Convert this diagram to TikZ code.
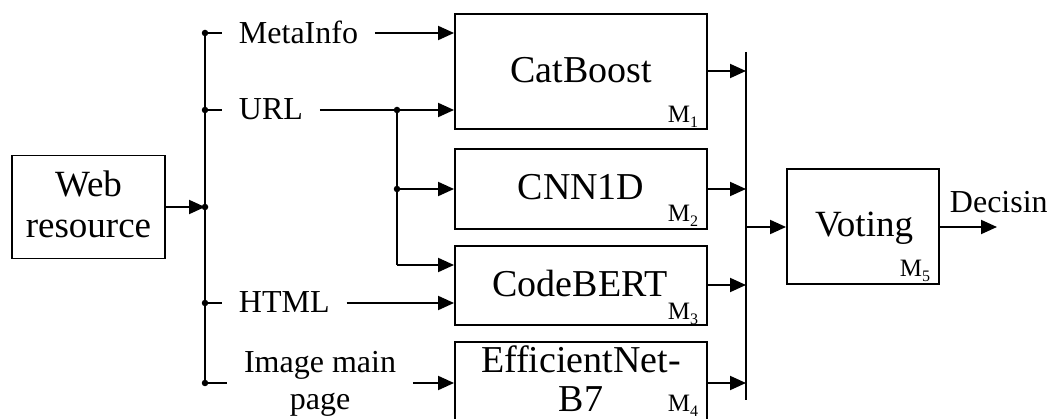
\documentclass[tikz,border=0pt]{standalone}
\usepackage{fontspec}
\setmainfont{Liberation Serif}
\usetikzlibrary{arrows.meta}
\newcommand{\mtag}[1]{M\raisebox{-4.5pt}{\fontsize{16}{16}\selectfont #1}}
\begin{document}
\begin{tikzpicture}[x=1pt,y=-1pt,line width=1.9pt,
  box/.style={draw,rectangle,inner sep=0pt,line width=1.9pt},
  big/.style={font=\fontsize{38}{40}\selectfont,inner sep=0pt,anchor=base},
  lab/.style={font=\fontsize{32}{34}\selectfont,inner ysep=0pt,inner xsep=16pt,anchor=base west},
  ctr/.style={font=\fontsize{32}{34}\selectfont,inner ysep=0pt,inner xsep=16pt,anchor=base},
  tag/.style={font=\fontsize{25}{25}\selectfont,inner sep=0pt,anchor=base east},
  arr/.style={-{Triangle[length=16pt,width=14pt]}},
  dot/.style={circle,fill,inner sep=0pt,minimum size=6.5pt}]
\useasboundingbox (0,0) rectangle (1050,419);
\clip (0,0) rectangle (1050,419);

% ---- source block
\node[box,minimum width=153pt,minimum height=103pt] (web) at (88.5,207) {};
\node[big,font=\fontsize{37}{40}\selectfont] (webA) at (88.5,197) {Web};
\node[big,font=\fontsize{37}{40}\selectfont] (webB) at (88.5,238) {resource};

% ---- input bus
\coordinate (b1) at (205,33);
\coordinate (b2) at (205,110);
\coordinate (bw) at (205,207);
\coordinate (b3) at (205,303);
\coordinate (b4) at (205,383);
\draw (b1) -- (b4);
\foreach \p in {b1,b2,bw,b3,b4} \node[dot] at (\p) {};
\draw[arr] (web.east |- bw) -- (bw);

% ---- input labels
\node[lab] (metaT) at (222,44) {MetaInfo};
\node[lab] (urlT) at (222,120) {URL};
\node[lab] (htmlT) at (222,313) {HTML};
\node[ctr] (imgA) at (320,373) {Image main};
\node[ctr] (imgB) at (320,410) {page};

% ---- models
\node[box,minimum width=252pt,minimum height=115pt] (cat) at (581,71.5) {};
\node[box,minimum width=252pt,minimum height=80pt] (cnn) at (581,189) {};
\node[box,minimum width=252pt,minimum height=79pt] (bert) at (581,285.5) {};
\node[box,minimum width=252pt,minimum height=100pt] (eff) at (581,392) {};
\node[big] (catT) at (581,83) {CatBoost};
\node[big] (cnnT) at (581,200) {CNN1D};
\node[big] (bertT) at (580,297) {CodeBERT};
\node[big] (effA) at (581,373) {EfficientNet-};
\node[big] (effB) at (581,412) {B7};
\node[tag] (m1) at (699,123) {\mtag{1}};
\node[tag] (m2) at (699,222) {\mtag{2}};
\node[tag] (m3) at (699,320) {\mtag{3}};
\node[tag] (m4) at (699,412) {\mtag{4}};

% ---- stubs from the input bus to the labels
\draw (b1) -- (metaT.west |- b1);
\draw (b2) -- (urlT.west |- b2);
\draw (b3) -- (htmlT.west |- b3);
\draw (b4) -- (imgA.west |- b4);

% ---- inputs to the models
\coordinate (j1) at (397,110);
\coordinate (j2) at (397,189);
\coordinate (j3) at (397,265);
\draw[arr] (metaT.east |- b1) -- (cat.west |- b1);
\draw[arr] (urlT.east |- b2) -- (cat.west |- b2);
\draw (j1) -- (j3);
\draw[arr] (j2) -- (cnn.west |- j2);
\draw[arr] (j3) -- (bert.west |- j3);
\draw[arr] (htmlT.east |- b3) -- (bert.west |- b3);
\draw[arr] (imgA.east |- b4) -- (eff.west |- b4);
\node[dot] at (j1) {};
\node[dot] at (j2) {};

% ---- output bus and voting
\coordinate (rtop) at (746,52);
\coordinate (rbot) at (746,400);
\coordinate (rv) at (746,227);
\draw (rtop) -- (rbot);
\draw[arr] (cat.east |- 0,71) -- (rtop |- 0,71);
\draw[arr] (cnn.east) -- (rtop |- cnn.east);
\draw[arr] (bert.east |- 0,285) -- (rtop |- 0,285);
\draw[arr] (eff.east |- b4) -- (rtop |- b4);

\node[box,minimum width=152pt,minimum height=115pt] (vote) at (863,226.5) {};
\node[big,font=\fontsize{37}{40}\selectfont] (voteT) at (864,237) {Voting};
\node[tag] (m5) at (931,277) {\mtag{5}};
\draw[arr] (rv) -- (vote.west |- rv);

\coordinate (out) at (997,227);
\draw[arr] (vote.east |- out) -- (out);
\node[font=\fontsize{32}{34}\selectfont,inner sep=0pt,anchor=base west] (dec) at (949,213) {Decisin};
\end{tikzpicture}
\end{document}
